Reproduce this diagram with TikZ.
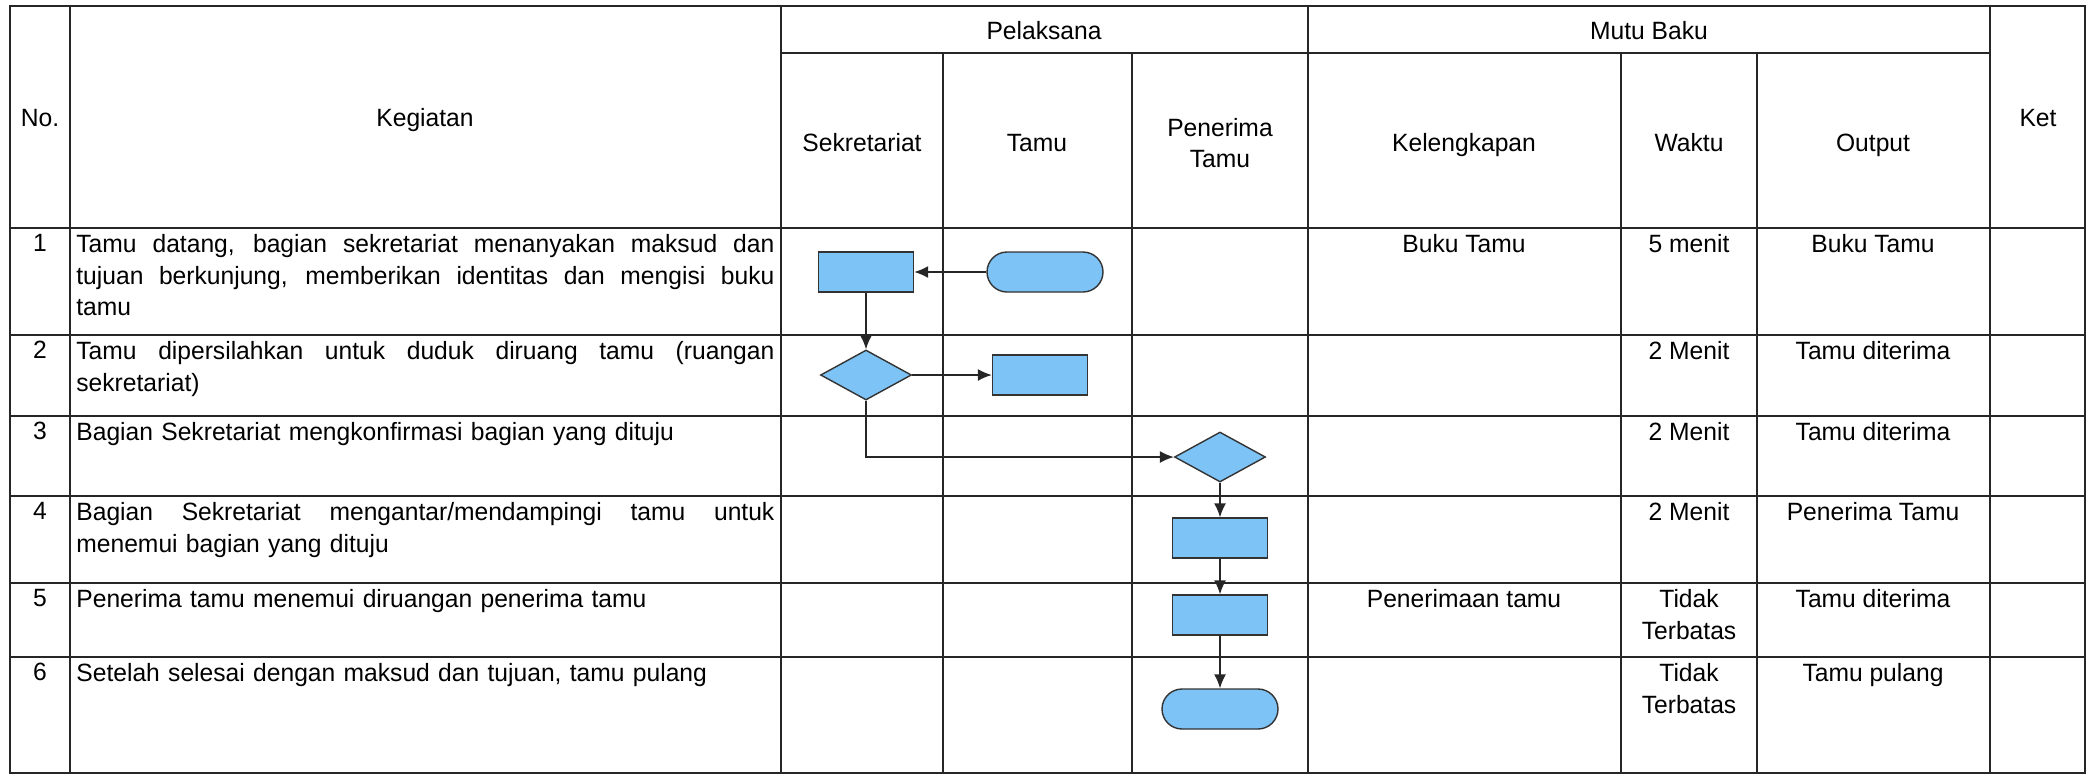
\documentclass[tikz,border=0pt]{standalone}
\usepackage{fontspec}
\setmainfont{Liberation Sans}[FakeStretch=0.985]
\usetikzlibrary{arrows.meta,shapes.geometric,shapes.misc}
\definecolor{flowblue}{RGB}{125,195,245}
\newcommand\jline[1]{\makebox[349pt][s]{\spaceskip=0.278em plus 1fil\relax #1}}
\tikzset{
  tabline/.style={line width=1.1pt,color=black!85},
  proc/.style={draw=black!80,fill=flowblue,line width=0.7pt,minimum width=47.5pt,minimum height=20pt,inner sep=0},
  term/.style={rounded rectangle,draw=black!80,fill=flowblue,line width=0.7pt,minimum width=58pt,minimum height=20pt,inner sep=0},
  dec/.style={diamond,draw=black!80,fill=flowblue,line width=0.7pt,minimum width=45.5pt,minimum height=25pt,inner sep=0},
  flow/.style={->,line width=0.7pt,color=black!85},
  cell/.style={anchor=north,inner sep=0,align=center},
  head/.style={anchor=base,inner sep=0},
  desc/.style={anchor=north west,inner sep=0,text width=349pt,align=left}
}
\begin{document}
\begin{tikzpicture}[x=0.5pt,y=-0.5pt,>={Latex[length=7pt,width=6pt]},font=\fontsize{12.5pt}{15.8pt}\selectfont]
\useasboundingbox (0,0) rectangle (2097,777);

\def\xl{10}
\def\xr{2085}
\def\ytop{6}
\def\ybot{773}

\draw[tabline] (\xl,\ytop) rectangle (\xr,\ybot);
\foreach \x in {70,781,1308,1990}{
	\draw[tabline] (\x,\ytop)--(\x,\ybot);
}
\foreach \x in {943,1132,1621,1757}{
	\draw[tabline] (\x,53)--(\x,\ybot);
}
\draw[tabline] (781,53)--(1990,53);
\foreach \y in {228,335,416,496,583,657}{
	\draw[tabline] (\xl,\y)--(\xr,\y);
}

\node[head] (hno) at (40,126) {No.};
\node[head] (hkeg) at (425,126) {Kegiatan};
\node[head] (hpel) at (1044,39) {Pelaksana};
\node[head] (hmutu) at (1649,39) {Mutu Baku};
\node[head] (hket) at (2038,126) {Ket};
\node[head] (hsek) at (862,151) {Sekretariat};
\node[head] (htamu) at (1037,151) {Tamu};
\node[align=center,inner sep=0] (hpen) at (1220,143) {Penerima\\Tamu};
\node[head] (hkel) at (1464,151) {Kelengkapan};
\node[head] (hwak) at (1689,151) {Waktu};
\node[head] (hout) at (1873,151) {Output};

\foreach \n/\y in {1/228,2/335,3/416,4/496,5/583,6/657}{
	\node[cell] (no\n) at (40,\y+6) {\n};
}

\node[desc] (keg1) at (76,234) {\jline{Tamu datang, bagian sekretariat menanyakan maksud dan}\\
	\jline{tujuan berkunjung, memberikan identitas dan mengisi buku}\\ tamu};
\node[desc] (keg2) at (76,341) {\jline{Tamu dipersilahkan untuk duduk diruang tamu (ruangan}\\ sekretariat)};
\node[desc] (keg3) at (76,422) {Bagian Sekretariat mengkonfirmasi bagian yang dituju};
\node[desc] (keg4) at (76,502) {\jline{Bagian Sekretariat mengantar/mendampingi tamu untuk}\\ menemui bagian yang dituju};
\node[desc] (keg5) at (76,589) {Penerima tamu menemui diruangan penerima tamu};
\node[desc] (keg6) at (76,663) {Setelah selesai dengan maksud dan tujuan, tamu pulang};

\node[cell] (kel1) at (1464,234) {Buku Tamu};
\node[cell] (kel5) at (1464,589) {Penerimaan tamu};
\foreach \n/\y/\w/\o in {1/228/5 menit/Buku Tamu,2/335/2 Menit/Tamu diterima,3/416/2 Menit/Tamu diterima,
	4/496/2 Menit/Penerima Tamu,5/583/{Tidak\\Terbatas}/Tamu diterima,6/657/{Tidak\\Terbatas}/Tamu pulang}{
	\node[cell] (wak\n) at (1689,\y+6) {\w};
	\node[cell] (out\n) at (1873,\y+6) {\o};
}

\node[proc] (sek1) at (866,272) {};
\node[term] (mulai) at (1045,272) {};
\node[dec] (cek1) at (866,375) {};
\node[proc] (duduk) at (1040,375) {};
\node[dec] (cek2) at (1220,457) {};
\node[proc] (antar) at (1220,538) {};
\node[proc] (temu) at (1220,615) {};
\node[term] (selesai) at (1220,709) {};

\draw[flow] (mulai)--(sek1);
\draw[flow] (sek1)--(cek1);
\draw[flow] (cek1)--(duduk);
\draw[flow] (cek1.south) |- (cek2.west);
\draw[flow] (cek2)--(antar);
\draw[flow] (antar)--(temu);
\draw[flow] (temu)--(selesai);

\end{tikzpicture}
\end{document}
